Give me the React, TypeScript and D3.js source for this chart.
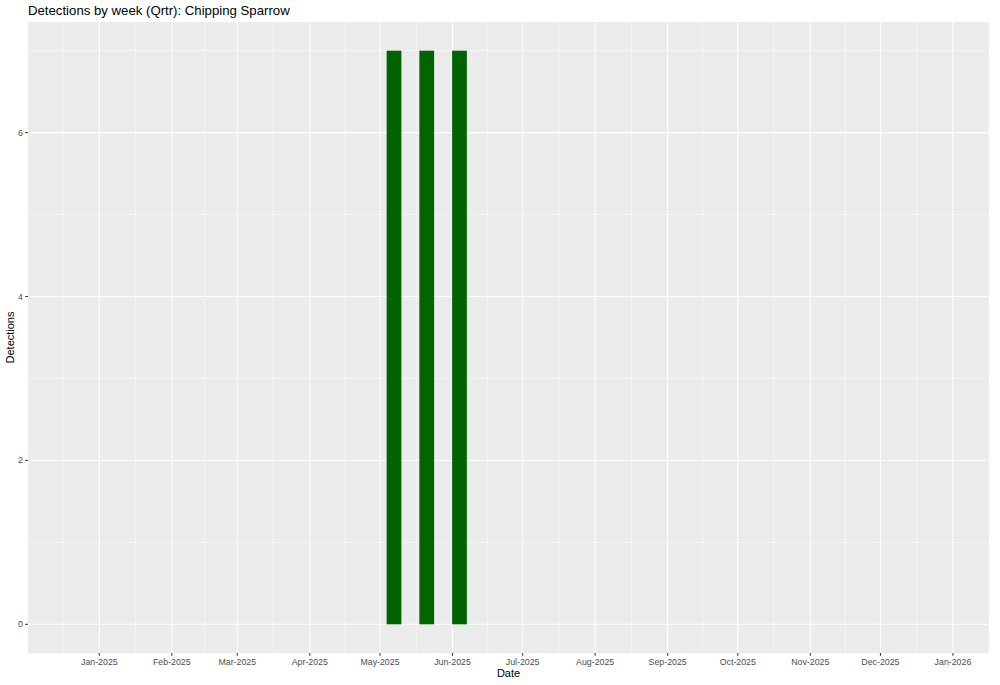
import * as d3 from "d3";

// weekly detections (week centre dates)
const weeks = ["2025-05-07", "2025-05-21", "2025-06-04"];
const detections = [7, 7, 7];

const xTickDates = [
  "2025-01-01", "2025-02-01", "2025-03-01", "2025-04-01", "2025-05-01", "2025-06-01",
  "2025-07-01", "2025-08-01", "2025-09-01", "2025-10-01", "2025-11-01", "2025-12-01", "2026-01-01",
];
const yTicks = [0, 2, 4, 6];
const yMinor = [1, 3, 5, 7];

const W = 1000;
const H = 685;
const margin = { left: 28, right: 11, top: 22, bottom: 32 };
const fontFamily = "'Liberation Sans', Arial, Helvetica, sans-serif";

const parse = d3.utcParse("%Y-%m-%d");
const fmt = d3.utcFormat("%b-%Y");
const DAY = 86400000;

export default function App() {
  const x = d3
    .scaleUtc()
    .domain([new Date(Date.UTC(2024, 11, 1, 12)), new Date(Date.UTC(2026, 0, 16, 10))])
    .range([margin.left, W - margin.right]);
  const y = d3
    .scaleLinear()
    .domain([-0.35, 7.35])
    .range([H - margin.bottom, margin.top]);

  const ticks = xTickDates.map((s) => parse(s) as Date);
  // ggplot-style minor breaks: midpoints between majors, extended one step each side
  const extTicks = [
    d3.utcMonth.offset(ticks[0], -1),
    ...ticks,
    d3.utcMonth.offset(ticks[ticks.length - 1], 1),
  ];
  const minorX = d3.pairs(extTicks).map(([a, b]) => new Date((a.getTime() + b.getTime()) / 2));

  const barHalf = 3.15 * DAY;
  const [x0, x1] = x.range();
  const [yb, yt] = y.range();

  return (
    <svg width={W} height={H} style={{ display: "block", position: "absolute", left: 0, top: 0 }} fontFamily={fontFamily}>
      <rect x={0} y={0} width={W} height={H} fill="#fff" />
      <rect x={x0} y={yt} width={x1 - x0} height={yb - yt} fill="#EBEBEB" />
      <clipPath id="panel">
        <rect x={x0} y={yt} width={x1 - x0} height={yb - yt} />
      </clipPath>
      <g clipPath="url(#panel)">
        {minorX.map((d, i) => (
          <line key={"mx" + i} x1={x(d)} x2={x(d)} y1={yt} y2={yb} stroke="#fff" strokeWidth={0.53} />
        ))}
        {yMinor.map((v) => (
          <line key={"my" + v} x1={x0} x2={x1} y1={y(v)} y2={y(v)} stroke="#fff" strokeWidth={0.53} />
        ))}
        {ticks.map((d, i) => (
          <line key={"gx" + i} x1={x(d)} x2={x(d)} y1={yt} y2={yb} stroke="#fff" strokeWidth={1.07} />
        ))}
        {yTicks.map((v) => (
          <line key={"gy" + v} x1={x0} x2={x1} y1={y(v)} y2={y(v)} stroke="#fff" strokeWidth={1.07} />
        ))}
        {weeks.map((s, i) => {
          const c = (parse(s) as Date).getTime();
          const l = x(new Date(c - barHalf));
          const r = x(new Date(c + barHalf));
          return (
            <rect key={s} x={l} y={y(detections[i])} width={r - l} height={y(0) - y(detections[i])} fill="#006400" />
          );
        })}
      </g>

      {/* x axis */}
      {ticks.map((d, i) => (
        <g key={"xt" + i} transform={`translate(${x(d)},${yb})`}>
          <line y1={0} y2={2.75} stroke="#333" strokeWidth={1.07} />
          <text y={12} textAnchor="middle" fontSize={8.8} fill="#4D4D4D">
            {fmt(d)}
          </text>
        </g>
      ))}
      {/* y axis */}
      {yTicks.map((v) => (
        <g key={"yt" + v} transform={`translate(${x0},${y(v)})`}>
          <line x1={-2.75} x2={0} stroke="#333" strokeWidth={1.07} />
          <text x={-5} dy="0.34em" textAnchor="end" fontSize={8.8} fill="#4D4D4D">
            {v}
          </text>
        </g>
      ))}

      <text x={(x0 + x1) / 2} y={H - 8} textAnchor="middle" fontSize={11} fill="#000">
        Date
      </text>
      <text
        transform={`translate(13.5,${(yt + yb) / 2}) rotate(-90)`}
        textAnchor="middle"
        fontSize={11}
        fill="#000"
      >
        Detections
      </text>
      <text x={x0} y={14.5} fontSize={13.2} fill="#000">
        Detections by week (Qrtr): Chipping Sparrow
      </text>
    </svg>
  );
}
